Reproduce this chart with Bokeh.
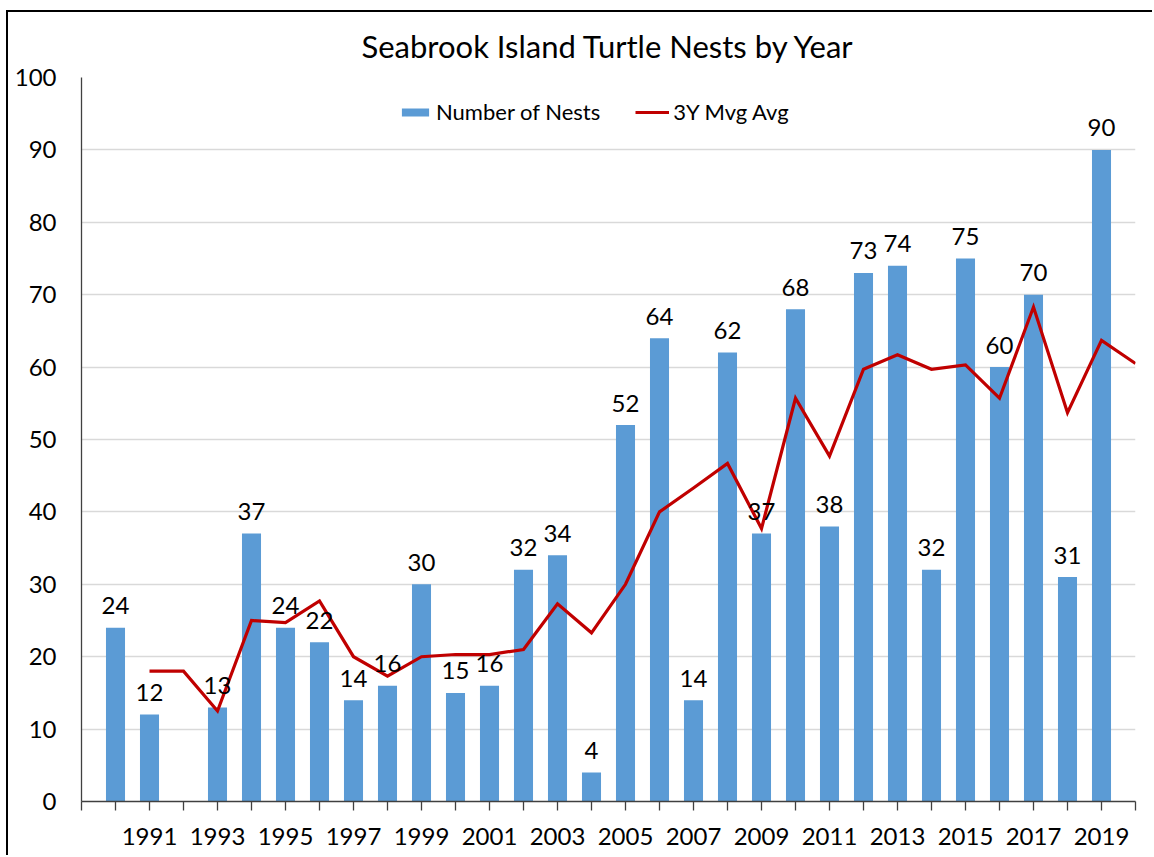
from bokeh.plotting import figure
from bokeh.models import ColumnDataSource, Range1d, FixedTicker, Legend, LegendItem
from bokeh.core.properties import value
from bokeh.embed import file_html
from bokeh.resources import INLINE

# ---- data ----
nest_years = [1990, 1991, 1993, 1994, 1995, 1996, 1997, 1998, 1999, 2000,
              2001, 2002, 2003, 2004, 2005, 2006, 2007, 2008, 2009, 2010,
              2011, 2012, 2013, 2014, 2015, 2016, 2017, 2018, 2019]
nests = [24, 12, 13, 37, 24, 22, 14, 16, 30, 15,
         16, 32, 34, 4, 52, 64, 14, 62, 37, 68,
         38, 73, 74, 32, 75, 60, 70, 31, 90]

avg_years = [1991, 1992, 1993, 1994, 1995, 1996, 1997, 1998, 1999, 2000,
             2001, 2002, 2003, 2004, 2005, 2006, 2007, 2008, 2009, 2010,
             2011, 2012, 2013, 2014, 2015, 2016, 2017, 2018, 2019, 2020]
moving_avg = [18, 18, 12.5, 25, 24.7, 27.7, 20, 17.3, 20, 20.3,
              20.3, 21, 27.3, 23.3, 30, 40, 43.3, 46.7, 37.7, 55.7,
              47.7, 59.7, 61.7, 59.7, 60.3, 55.7, 68.3, 53.7, 63.7, 60.5]

y_ticks = [0, 10, 20, 30, 40, 50, 60, 70, 80, 90, 100]

TITLE = "Seabrook Island Turtle Nests by Year"
FONT = "Lato"

first_year = min(nest_years) - 1
last_year = max(avg_years)
all_years = list(range(first_year, last_year + 1))
labelled = [y for y in all_years if y % 2 == 1 and y > first_year + 1 and y < last_year]
overrides = {y: ("" if y not in labelled else str(y)) for y in all_years}

bar_src = ColumnDataSource(dict(year=nest_years, n=nests, label=[str(v) for v in nests]))
avg_src = ColumnDataSource(dict(year=avg_years, avg=moving_avg))

p = figure(width=1146, height=845,
           x_range=Range1d(first_year, last_year), y_range=Range1d(y_ticks[0], y_ticks[-1]),
           output_backend="svg", toolbar_location=None,
           min_border_left=73, min_border_right=19, min_border_top=65, min_border_bottom=56)

p.styles = {"margin-left": "6px", "margin-top": "10px",
            "border-left": "2px solid black", "border-top": "2px solid black"}

p.title.text = TITLE
p.title.align = "center"
p.title.text_font = FONT
p.title.text_font_size = "31px"
p.title.text_font_style = "normal"
p.title.text_color = "black"
p.title.standoff = 25

p.outline_line_color = None
p.background_fill_color = "white"
p.border_fill_color = "white"

p.xgrid.visible = False
p.ygrid.grid_line_color = "#D9D9D9"
p.ygrid.grid_line_width = 1.3

# axes
p.xaxis.ticker = FixedTicker(ticks=all_years)
p.xaxis.major_label_overrides = overrides
p.xaxis.major_tick_in = 0
p.xaxis.major_tick_out = 9
p.xaxis.minor_tick_line_color = None
p.xaxis.axis_line_color = "#404040"
p.xaxis.major_tick_line_color = "#404040"
p.xaxis.axis_line_width = 1.3
p.xaxis.major_tick_line_width = 1.3
p.xaxis.major_label_text_font = FONT
p.xaxis.major_label_text_font_size = "24px"
p.xaxis.major_label_text_color = "black"
p.xaxis.major_label_standoff = 17

p.yaxis.ticker = FixedTicker(ticks=y_ticks)
p.yaxis.major_tick_in = 0
p.yaxis.major_tick_out = 0
p.yaxis.minor_tick_line_color = None
p.yaxis.axis_line_color = "#404040"
p.yaxis.axis_line_width = 1.3
p.yaxis.major_label_text_font = FONT
p.yaxis.major_label_text_font_size = "24px"
p.yaxis.major_label_text_color = "black"
p.yaxis.major_label_standoff = 25

bars = p.vbar(x="year", top="n", width=0.56, source=bar_src,
              fill_color="#5B9BD5", line_color=None)
line = p.line(x="year", y="avg", source=avg_src, line_color="#C00000",
              line_width=3.2, line_join="miter")
p.text(x="year", y="n", text="label", source=bar_src,
       text_align="center", text_baseline="alphabetic", y_offset=-22,
       text_font=value(FONT), text_font_size="24px", text_color="black")

legend = Legend(items=[LegendItem(label="Number of Nests", renderers=[bars]),
                       LegendItem(label="3Y Mvg Avg", renderers=[line])],
                orientation="horizontal", location=(317, 676),
                border_line_color=None, background_fill_alpha=0,
                padding=0, margin=0, spacing=35, label_standoff=4,
                glyph_width=34, glyph_height=10,
                label_text_font=FONT, label_text_font_size="22px",
                label_text_color="black")
p.add_layout(legend)

open("out.html", "w").write(file_html(p, INLINE))
